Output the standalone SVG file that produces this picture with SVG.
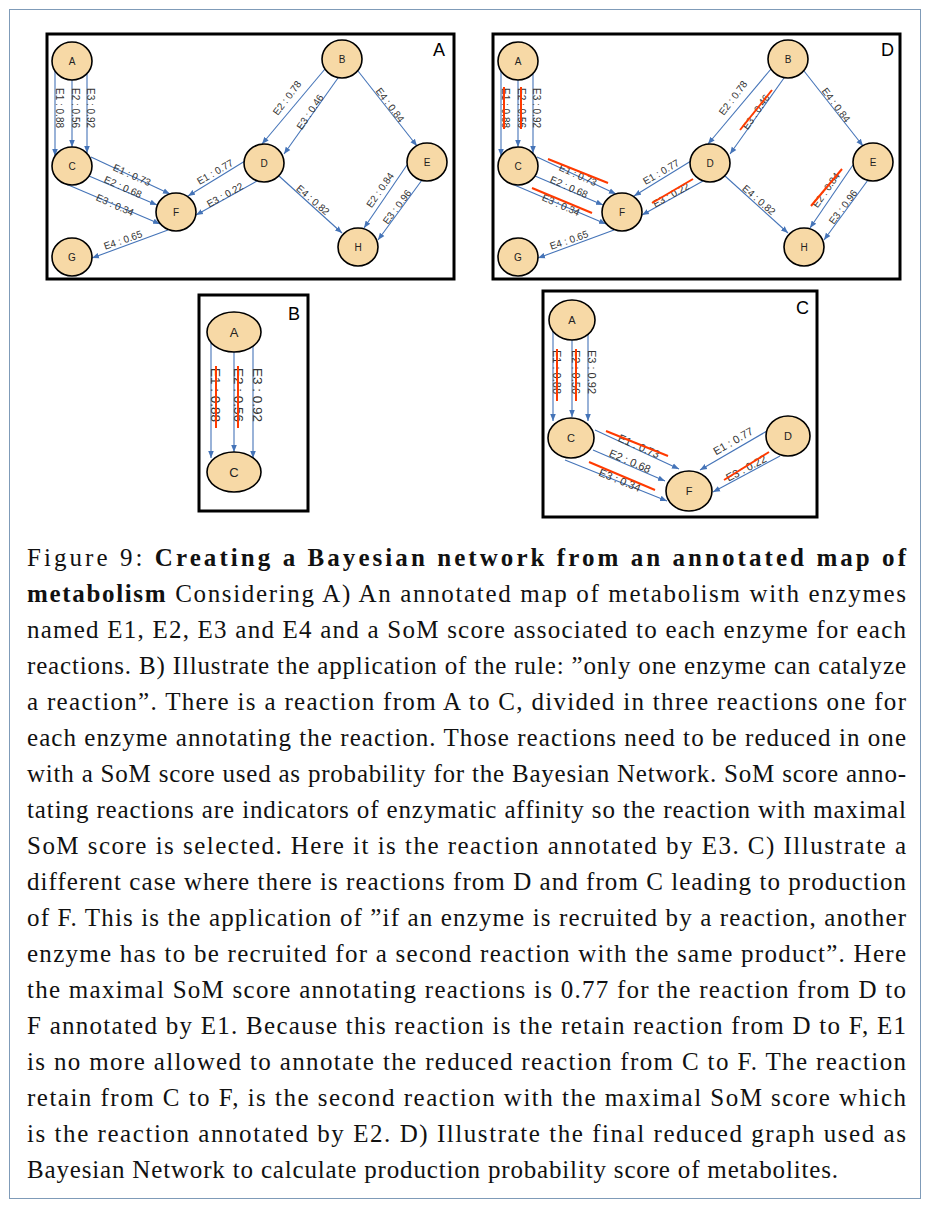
<svg xmlns="http://www.w3.org/2000/svg" width="930" height="1208" viewBox="0 0 930 1208">
<style>
.frame{fill:none;stroke:#000;stroke-width:3}
.nd{fill:#f7d9a6;stroke:#000;stroke-width:1.6}
.nt{font-family:"Liberation Sans",Arial,sans-serif;font-size:10px;fill:#222;text-anchor:middle;dominant-baseline:central}
.e{stroke:#4574b8;stroke-width:1.1;fill:none;marker-end:url(#arr)}
.lb{font-family:"Liberation Sans",Arial,sans-serif;font-size:10px;fill:#333;text-anchor:middle;dominant-baseline:central}
.st{stroke:#ff3a00;stroke-width:2;fill:none}
.pl{font-family:"Liberation Sans",Arial,sans-serif;font-size:18px;fill:#000}
.cap{font-family:"Liberation Serif","Times New Roman",serif;font-size:25px;fill:#111}
</style>
<defs>
<marker id="arr" viewBox="0 0 10 10" refX="10" refY="5" markerWidth="7" markerHeight="7" orient="auto" markerUnits="userSpaceOnUse">
<path d="M0,1 L10,5 L0,9 z" fill="#4574b8"/>
</marker>
</defs>
<rect x="9.5" y="9.5" width="911" height="1189" fill="#fff" stroke="#7f9bb8" stroke-width="1"/>

<!-- Panel A -->
<g id="panelA">
<rect class="frame" x="47" y="34" width="407" height="245"/>
<text class="pl" x="433" y="56">A</text>
<g id="A-edges">
<line class="e" x1="55" y1="71" x2="55" y2="156"/>
<line class="e" x1="72" y1="80" x2="72" y2="147"/>
<line class="e" x1="87" y1="74" x2="87" y2="153"/>
<line class="e" x1="325" y1="69" x2="262" y2="144"/>
<line class="e" x1="338" y1="78" x2="284" y2="154"/>
<line class="e" x1="358" y1="71" x2="417" y2="146"/>
<line class="e" x1="91" y1="157" x2="170" y2="194"/>
<line class="e" x1="89" y1="176" x2="157" y2="205"/>
<line class="e" x1="66" y1="184" x2="160" y2="224"/>
<line class="e" x1="245" y1="161" x2="188" y2="196"/>
<line class="e" x1="257" y1="181" x2="196" y2="215"/>
<line class="e" x1="168" y1="230" x2="92" y2="258"/>
<line class="e" x1="279" y1="176" x2="342" y2="233"/>
<line class="e" x1="407" y1="165" x2="364" y2="228"/>
<line class="e" x1="422" y1="180" x2="378" y2="240"/>
<text class="lb" transform="translate(59,108) rotate(90)">E1 : 0.88</text>
<text class="lb" transform="translate(75,108) rotate(90)">E2 : 0.56</text>
<text class="lb" transform="translate(90,108) rotate(90)">E3 : 0.92</text>
<text class="lb" transform="translate(287,98) rotate(-53)">E2 : 0.78</text>
<text class="lb" transform="translate(310,112) rotate(-56)">E3 : 0.46</text>
<text class="lb" transform="translate(390,105) rotate(53)">E4 : 0.84</text>
<text class="lb" transform="translate(132,175) rotate(24)">E1 : 0.73</text>
<text class="lb" transform="translate(123,187) rotate(24)">E2 : 0.68</text>
<text class="lb" transform="translate(115,205) rotate(24)">E3 : 0.34</text>
<text class="lb" transform="translate(215,172) rotate(-30)">E1 : 0.77</text>
<text class="lb" transform="translate(225,195) rotate(-29)">E3 : 0.22</text>
<text class="lb" transform="translate(123,240) rotate(-19)">E4 : 0.65</text>
<text class="lb" transform="translate(313,200) rotate(41)">E4 : 0.82</text>
<text class="lb" transform="translate(380,190) rotate(-55)">E2 : 0.84</text>
<text class="lb" transform="translate(397,207) rotate(-53)">E3 : 0.96</text>
</g>
<g id="A-nA"><ellipse class="nd" cx="72" cy="61" rx="20" ry="19"/><text class="nt" x="72" y="61">A</text></g>
<g id="A-nB"><ellipse class="nd" cx="342" cy="59" rx="20" ry="19"/><text class="nt" x="342" y="59">B</text></g>
<g id="A-nC"><ellipse class="nd" cx="72" cy="166" rx="20" ry="19"/><text class="nt" x="72" y="166">C</text></g>
<g id="A-nD"><ellipse class="nd" cx="264" cy="163" rx="20" ry="19"/><text class="nt" x="264" y="163">D</text></g>
<g id="A-nE"><ellipse class="nd" cx="427" cy="162" rx="20" ry="19"/><text class="nt" x="427" y="162">E</text></g>
<g id="A-nF"><ellipse class="nd" cx="176" cy="212" rx="20" ry="19"/><text class="nt" x="176" y="212">F</text></g>
<g id="A-nG"><ellipse class="nd" cx="72" cy="257" rx="20" ry="19"/><text class="nt" x="72" y="257">G</text></g>
<g id="A-nH"><ellipse class="nd" cx="358" cy="247" rx="20" ry="19"/><text class="nt" x="358" y="247">H</text></g>
</g>

<!-- Panel D -->
<g id="panelD" transform="translate(446,0)">
<rect class="frame" x="47" y="34" width="407" height="245"/>
<text class="pl" x="435" y="56">D</text>
<g id="D-edges">
<line class="e" x1="55" y1="71" x2="55" y2="156"/>
<line class="e" x1="72" y1="80" x2="72" y2="147"/>
<line class="e" x1="87" y1="74" x2="87" y2="153"/>
<line class="e" x1="325" y1="69" x2="262" y2="144"/>
<line class="e" x1="338" y1="78" x2="284" y2="154"/>
<line class="e" x1="358" y1="71" x2="417" y2="146"/>
<line class="e" x1="91" y1="157" x2="170" y2="194"/>
<line class="e" x1="89" y1="176" x2="157" y2="205"/>
<line class="e" x1="66" y1="184" x2="160" y2="224"/>
<line class="e" x1="245" y1="161" x2="188" y2="196"/>
<line class="e" x1="257" y1="181" x2="196" y2="215"/>
<line class="e" x1="168" y1="230" x2="92" y2="258"/>
<line class="e" x1="279" y1="176" x2="342" y2="233"/>
<line class="e" x1="407" y1="165" x2="364" y2="228"/>
<line class="e" x1="422" y1="180" x2="378" y2="240"/>
<text class="lb" transform="translate(59,108) rotate(90)">E1 : 0.88</text>
<text class="lb" transform="translate(75,108) rotate(90)">E2 : 0.56</text>
<text class="lb" transform="translate(90,108) rotate(90)">E3 : 0.92</text>
<text class="lb" transform="translate(287,98) rotate(-53)">E2 : 0.78</text>
<text class="lb" transform="translate(310,112) rotate(-56)">E3 : 0.46</text>
<text class="lb" transform="translate(390,105) rotate(53)">E4 : 0.84</text>
<text class="lb" transform="translate(132,175) rotate(24)">E1 : 0.73</text>
<text class="lb" transform="translate(123,187) rotate(24)">E2 : 0.68</text>
<text class="lb" transform="translate(115,205) rotate(24)">E3 : 0.34</text>
<text class="lb" transform="translate(215,172) rotate(-30)">E1 : 0.77</text>
<text class="lb" transform="translate(225,195) rotate(-29)">E3 : 0.22</text>
<text class="lb" transform="translate(123,240) rotate(-19)">E4 : 0.65</text>
<text class="lb" transform="translate(313,200) rotate(41)">E4 : 0.82</text>
<text class="lb" transform="translate(380,190) rotate(-55)">E2 : 0.84</text>
<text class="lb" transform="translate(397,207) rotate(-53)">E3 : 0.96</text>
<line class="st" x1="58" y1="87" x2="58" y2="129"/>
<line class="st" x1="75" y1="87" x2="75" y2="129"/>
<line class="st" x1="294" y1="130" x2="326" y2="90"/>
<line class="st" x1="102" y1="159" x2="162" y2="183"/>
<line class="st" x1="86" y1="188" x2="146" y2="213"/>
<line class="st" x1="206" y1="203" x2="247" y2="179"/>
<line class="st" x1="365" y1="206" x2="396" y2="169"/>
</g>
<g id="D-nA"><ellipse class="nd" cx="72" cy="61" rx="20" ry="19"/><text class="nt" x="72" y="61">A</text></g>
<g id="D-nB"><ellipse class="nd" cx="342" cy="59" rx="20" ry="19"/><text class="nt" x="342" y="59">B</text></g>
<g id="D-nC"><ellipse class="nd" cx="72" cy="166" rx="20" ry="19"/><text class="nt" x="72" y="166">C</text></g>
<g id="D-nD"><ellipse class="nd" cx="264" cy="163" rx="20" ry="19"/><text class="nt" x="264" y="163">D</text></g>
<g id="D-nE"><ellipse class="nd" cx="427" cy="162" rx="20" ry="19"/><text class="nt" x="427" y="162">E</text></g>
<g id="D-nF"><ellipse class="nd" cx="176" cy="212" rx="20" ry="19"/><text class="nt" x="176" y="212">F</text></g>
<g id="D-nG"><ellipse class="nd" cx="72" cy="257" rx="20" ry="19"/><text class="nt" x="72" y="257">G</text></g>
<g id="D-nH"><ellipse class="nd" cx="358" cy="247" rx="20" ry="19"/><text class="nt" x="358" y="247">H</text></g>
</g>

<!-- Panel B -->
<g id="panelB">
<rect class="frame" x="199" y="295" width="109" height="216"/>
<text class="pl" x="288" y="320">B</text>
<g id="B-edges">
<line class="e" x1="211" y1="343" x2="211" y2="458"/>
<line class="e" x1="234" y1="352" x2="234" y2="452"/>
<line class="e" x1="253" y1="345" x2="253" y2="458"/>
<text class="lb" style="font-size:13.5px" transform="translate(215.5,395) rotate(90)">E1 : 0.88</text>
<text class="lb" style="font-size:13.5px" transform="translate(238,395) rotate(90)">E2 : 0.56</text>
<text class="lb" style="font-size:13.5px" transform="translate(257,395) rotate(90)">E3 : 0.92</text>
<line class="st" x1="216" y1="366" x2="216" y2="428"/>
<line class="st" x1="238" y1="366" x2="238" y2="428"/>
</g>
<g id="B-nA"><ellipse class="nd" cx="234" cy="332" rx="27" ry="20"/><text class="nt" style="font-size:13px" x="234" y="332">A</text></g>
<g id="B-nC"><ellipse class="nd" cx="234" cy="472" rx="27" ry="20"/><text class="nt" style="font-size:13px" x="234" y="472">C</text></g>
</g>

<!-- Panel C -->
<g id="panelC">
<rect class="frame" x="543" y="291" width="274" height="226"/>
<text class="pl" x="796" y="314">C</text>
<g id="C-edges">
<line class="e" x1="553" y1="331" x2="553" y2="421"/>
<line class="e" x1="572" y1="340" x2="572" y2="417"/>
<line class="e" x1="588" y1="334" x2="588" y2="421"/>
<line class="e" x1="595" y1="430" x2="679" y2="469"/>
<line class="e" x1="593" y1="450" x2="665" y2="481"/>
<line class="e" x1="565" y1="460" x2="667" y2="501"/>
<line class="e" x1="767" y1="431" x2="700" y2="470"/>
<line class="e" x1="780" y1="456" x2="713" y2="492"/>
<text class="lb" style="font-size:11px" transform="translate(557,372) rotate(90)">E1 : 0.88</text>
<text class="lb" style="font-size:11px" transform="translate(576,372) rotate(90)">E2 : 0.56</text>
<text class="lb" style="font-size:11px" transform="translate(592,372) rotate(90)">E3 : 0.92</text>
<text class="lb" style="font-size:11px" transform="translate(639,446) rotate(24)">E1 : 0.73</text>
<text class="lb" style="font-size:11px" transform="translate(630,461) rotate(23)">E2 : 0.68</text>
<text class="lb" style="font-size:11px" transform="translate(620,480) rotate(22)">E3 : 0.34</text>
<text class="lb" style="font-size:11px" transform="translate(733,441) rotate(-30)">E1 : 0.77</text>
<text class="lb" style="font-size:11px" transform="translate(746,468) rotate(-28)">E3 : 0.22</text>
<line class="st" x1="557" y1="349" x2="557" y2="401"/>
<line class="st" x1="576" y1="349" x2="576" y2="401"/>
<line class="st" x1="606" y1="431" x2="668" y2="456"/>
<line class="st" x1="589" y1="462" x2="655" y2="490"/>
<line class="st" x1="724" y1="480" x2="769" y2="452"/>
</g>
<g id="C-nA"><ellipse class="nd" cx="572" cy="320" rx="23" ry="20"/><text class="nt" style="font-size:11px" x="572" y="320">A</text></g>
<g id="C-nC"><ellipse class="nd" cx="571" cy="438" rx="23" ry="20"/><text class="nt" style="font-size:11px" x="571" y="438">C</text></g>
<g id="C-nD"><ellipse class="nd" cx="788" cy="436" rx="22" ry="20"/><text class="nt" style="font-size:11px" x="788" y="436">D</text></g>
<g id="C-nF"><ellipse class="nd" cx="689" cy="491" rx="23" ry="20"/><text class="nt" style="font-size:11px" x="689" y="491">F</text></g>
</g>

<!-- Caption -->
<g id="caption" class="cap">
<text x="27" y="566" textLength="879" lengthAdjust="spacing">Figure 9: <tspan font-weight="bold">Creating a Bayesian network from an annotated map of</tspan></text>
<text x="27" y="602" textLength="879" lengthAdjust="spacing"><tspan font-weight="bold">metabolism</tspan> Considering A) An annotated map of metabolism with enzymes</text>
<text x="27" y="638" textLength="879" lengthAdjust="spacing">named E1, E2, E3 and E4 and a SoM score associated to each enzyme for each</text>
<text x="27" y="674" textLength="879" lengthAdjust="spacing">reactions. B) Illustrate the application of the rule: ”only one enzyme can catalyze</text>
<text x="27" y="710" textLength="879" lengthAdjust="spacing">a reaction”. There is a reaction from A to C, divided in three reactions one for</text>
<text x="27" y="746" textLength="879" lengthAdjust="spacing">each enzyme annotating the reaction. Those reactions need to be reduced in one</text>
<text x="27" y="782" textLength="879" lengthAdjust="spacing">with a SoM score used as probability for the Bayesian Network. SoM score anno-</text>
<text x="27" y="818" textLength="879" lengthAdjust="spacing">tating reactions are indicators of enzymatic affinity so the reaction with maximal</text>
<text x="27" y="854" textLength="879" lengthAdjust="spacing">SoM score is selected. Here it is the reaction annotated by E3. C) Illustrate a</text>
<text x="27" y="890" textLength="879" lengthAdjust="spacing">different case where there is reactions from D and from C leading to production</text>
<text x="27" y="926" textLength="879" lengthAdjust="spacing">of F. This is the application of ”if an enzyme is recruited by a reaction, another</text>
<text x="27" y="962" textLength="879" lengthAdjust="spacing">enzyme has to be recruited for a second reaction with the same product”. Here</text>
<text x="27" y="998" textLength="879" lengthAdjust="spacing">the maximal SoM score annotating reactions is 0.77 for the reaction from D to</text>
<text x="27" y="1034" textLength="879" lengthAdjust="spacing">F annotated by E1. Because this reaction is the retain reaction from D to F, E1</text>
<text x="27" y="1070" textLength="879" lengthAdjust="spacing">is no more allowed to annotate the reduced reaction from C to F. The reaction</text>
<text x="27" y="1106" textLength="879" lengthAdjust="spacing">retain from C to F, is the second reaction with the maximal SoM score which</text>
<text x="27" y="1142" textLength="879" lengthAdjust="spacing">is the reaction annotated by E2. D) Illustrate the final reduced graph used as</text>
<text x="27" y="1178" textLength="811" lengthAdjust="spacing">Bayesian Network to calculate production probability score of metabolites.</text>
</g>
</svg>
